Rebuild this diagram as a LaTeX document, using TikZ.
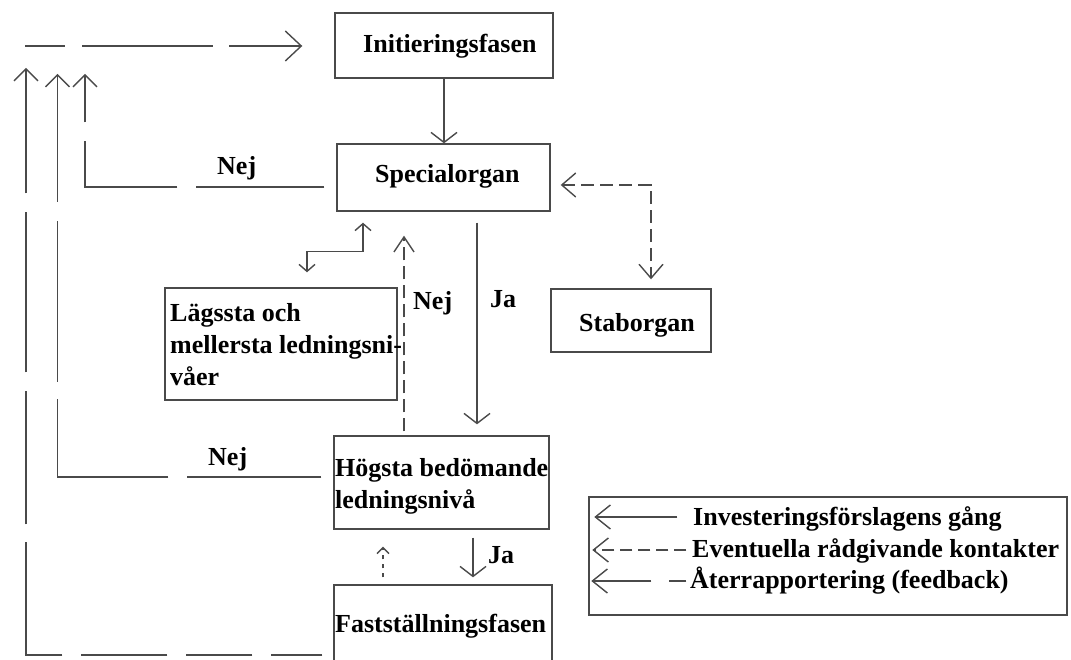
\documentclass[tikz,border=0pt]{standalone}
\usepackage{fontspec}
\setmainfont{Liberation Serif}
\usetikzlibrary{arrows.meta,calc}
\definecolor{ln}{HTML}{4A4A4A}
\tikzset{
  box/.style={draw=ln, line width=1.4pt, inner sep=0pt, rectangle},
  lbl/.style={inner sep=0pt, anchor=base west, font=\bfseries\fontsize{26}{31}\selectfont, text=black},
  flow/.style={draw=ln, line width=1.4pt, line join=miter},
  adv/.style={draw=ln, line width=1.4pt, dash pattern=on 13pt off 6pt},
  fb/.style={draw=ln, line width=1.4pt, line join=miter},
  barbA/.tip={Straight Barb[length=10pt,width=26pt]},
  barbT/.tip={Straight Barb[length=16pt,width=30pt]},
  barbF/.tip={Straight Barb[length=12pt,width=24pt]},
  barbN/.tip={Straight Barb[length=15pt,width=20pt]},
  barbS/.tip={Straight Barb[length=14pt,width=24pt]},
  barbP/.tip={Straight Barb[length=7pt,width=16pt]},
  barbD/.tip={Straight Barb[length=6pt,width=12pt]},
  barbL/.tip={Straight Barb[length=15pt,width=24pt]},
}
\begin{document}
\begin{tikzpicture}[x=1pt,y=-1pt]
\useasboundingbox (0,0) rectangle (1071,660);
\clip (0,0) rectangle (1071,660);
\fill[white] (0,0) rectangle (1071,660);

% boxes
\node[box, minimum width=218pt, minimum height=65pt] (init) at (444,45.5) {};
\node[box, minimum width=213pt, minimum height=67pt] (spec) at (443.5,177.5) {};
\node[box, minimum width=160pt, minimum height=63pt] (stab) at (631,320.5) {};
\node[box, minimum width=232pt, minimum height=112pt] (lag) at (281,344) {};
\node[box, minimum width=215pt, minimum height=93pt] (hog) at (441.5,482.5) {};
\node[box, minimum width=218pt, minimum height=115pt] (fast) at (443,642.5) {};
\node[box, minimum width=478pt, minimum height=118pt] (leg) at (828,556) {};

% texts
\node[lbl] (tinit) at (363,53) {Initieringsfasen};
\node[lbl] (tspec) at (375,183) {Specialorgan};
\node[lbl] (tstab) at (579,331) {Staborgan};
\node[lbl] (tlag1) at (170,322) {Lägssta och};
\node[lbl] (tlag2) at (170,353) {mellersta ledningsni-};
\node[lbl] (tlag3) at (170,385) {våer};
\node[lbl] (thog1) at (335,476) {Högsta bedömande};
\node[lbl] (thog2) at (335,508) {ledningsnivå};
\node[lbl] (tfast) at (335,632) {Fastställningsfasen};
\node[lbl] (nej1) at (217,175) {Nej};
\node[lbl] (nej2) at (208,465) {Nej};
\node[lbl] (nej3) at (413,310) {Nej};
\node[lbl] (ja1) at (490,308) {Ja};
\node[lbl] (ja2) at (488,563) {Ja};
\node[lbl] (leg1) at (693,525) {Investeringsförslagens gång};
\node[lbl] (leg2) at (692,557) {Eventuella rådgivande kontakter};
\node[lbl] (leg3) at (690,588) {Återrapportering (feedback)};

% main flow
\draw[flow, -barbA] (init.south) -- (init.south |- spec.north);
\draw[flow, -barbA] ($(spec.south)+(33.5,11)$) -- ($(hog.north)+(35.5,-11)$);
\draw[flow, -barbA] ($(hog.south)+(31.5,8)$) -- ($(fast.north)+(30,-7)$);
\draw[flow, dash pattern=on 4pt off 5pt, -barbD] ($(fast.north)+(-60,-7)$) -- ($(hog.south)+(-58.5,17)$);
\draw[adv, -barbN] ($(hog.north)+(-37.5,-4)$) -- ($(spec.south)+(-39.5,24)$);
\draw[adv, barbS-barbS] ($(spec.east)+(10,7.5)$) -| ($(stab.north)+(20,-9)$);
\draw[flow, barbP-barbP] ($(lag.north)+(26,-15)$) -- ++(0,-21) -| ($(spec.south)+(-80.5,11)$);

% feedback
\coordinate (fa) at (85,74);
\coordinate (fbt) at (57.5,74);
\coordinate (fct) at (26,68);
\coordinate (fdt) at (25,46);
\draw[fb, dash pattern=on 128pt off 19pt on 138pt off 19pt on 80pt, -barbF] ($(spec.west)+(-12,9.5)$) -| (fa);
\draw[fb, dash pattern=on 134pt off 19pt on 189pt off 17pt on 161pt off 19pt on 200pt, -barbF] ($(hog.west)+(-12,-5.5)$) -| (fbt);
\draw[fb, dash pattern=on 51pt off 19pt on 66pt off 19pt on 86pt off 19pt on 149pt off 18pt on 133pt off 19pt on 160pt off 19pt on 200pt, -barbF] ($(fast.west)+(-11,12.5)$) -| (fct);
\draw[fb, dash pattern=on 40pt off 17pt on 131pt off 16pt on 100pt, -barbT] (fdt) -- ($(init.west)+(-32,0.5)$);

% legend arrows
\draw[flow, -barbL] ($(leg.west)+(89,-39)$) -- ($(leg.west)+(6,-39)$);
\draw[flow, dash pattern=on 12pt off 6pt, -barbL] ($(leg.west)+(98,-6)$) -- ($(leg.west)+(4,-6)$);
\draw[flow, dash pattern=on 17pt off 18pt on 80pt, -barbL] ($(leg.west)+(98,25)$) -- ($(leg.west)+(3,25)$);
\end{tikzpicture}
\end{document}
